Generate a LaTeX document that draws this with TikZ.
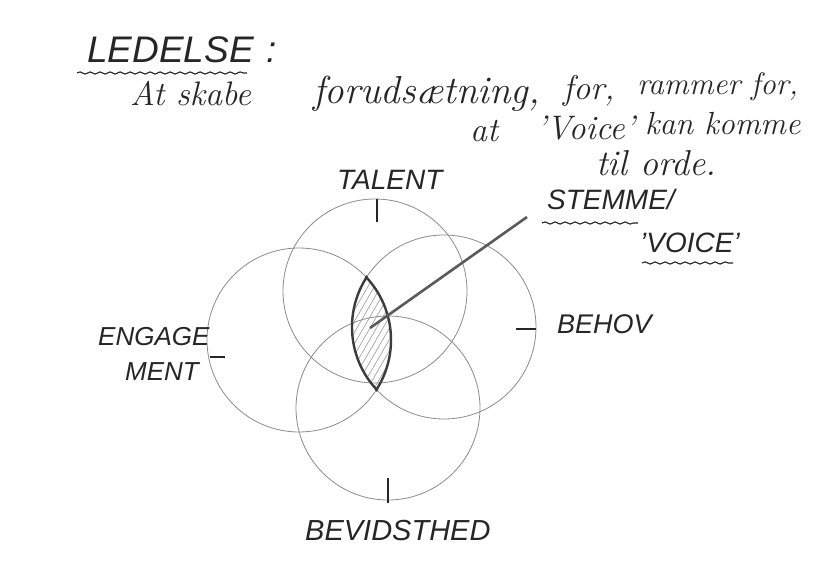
\documentclass[tikz,border=0pt]{standalone}
\usepackage{fontspec}
\setsansfont{Liberation Sans}
\usetikzlibrary{decorations.pathmorphing}
\definecolor{ink}{HTML}{262626}
\definecolor{circgray}{HTML}{8C8C8C}
\definecolor{lensgray}{HTML}{3C3C3C}
\definecolor{ptrgray}{HTML}{5A5A5A}
\definecolor{hatchgray}{HTML}{9A9A9A}
\begin{document}
\begin{tikzpicture}[x=1pt,y=-1pt,
  circ/.style={draw=circgray, line width=0.8pt, circle, minimum size=184pt, inner sep=0pt},
  caps/.style={font=\sffamily\itshape\fontsize{28}{30}\selectfont, text=ink, inner sep=0pt, anchor=base west},
  cur/.style={font=\itshape\fontsize{34}{40}\selectfont, text=ink, inner sep=0pt, anchor=base west},
  tickmark/.style={draw=ink, line width=2.2pt},
  lensline/.style={draw=lensgray, line width=2.4pt},
  hatch/.style={draw=hatchgray, line width=0.6pt},
  pointer/.style={draw=ptrgray, line width=2.6pt},
  wavy/.style={draw=ink, line width=1.1pt, decorate, decoration={snake, amplitude=1.1pt, segment length=10pt}},
]
\fill[white] (0,0) rectangle (823,583);
\useasboundingbox (0,0) rectangle (823,583);

% header text
\node[caps, font=\sffamily\itshape\fontsize{37}{40}\selectfont] (ledelse) at (87,63) {LEDELSE\,\,:};
\draw[wavy] (77,73) -- (247,73);

\node[cur] (l2a) at (130,106) {At skabe};
\node[cur, font=\itshape\fontsize{39}{44}\selectfont] (l2b) at (313,104) {forudsætning,};
\node[cur] (l2c) at (563,100) {for,};
\node[cur, font=\itshape\fontsize{31}{36}\selectfont] (l2d) at (637,95) {rammer for,};
\node[cur] (l3a) at (470,142) {at};
\node[cur] (l3b) at (536,140) {'Voice'};
\node[cur, font=\itshape\fontsize{32}{38}\selectfont] (l3c) at (645,135) {kan komme};
\node[cur, font=\itshape\fontsize{36}{42}\selectfont] (l4) at (596,176) {til orde.};

% circles
\node[circ] (ctal) at (375,291) {};
\node[circ] (ceng) at (299,340) {};
\node[circ] (cbeh) at (444,327) {};
\node[circ] (cbev) at (388,408) {};

% lens hatching
\begin{scope}
  \clip (ceng.center) circle (92pt);
  \clip (cbeh.center) circle (92pt);
  \foreach \i in {-12,...,12}
    \draw[hatch] (370+\i*6.5-40, 328+69.3) -- (370+\i*6.5+40, 328-69.3);
\end{scope}
% lens outline
\begin{scope}
  \clip (ceng.center) circle (93.5pt);
  \draw[lensline] (cbeh.center) circle (92pt);
\end{scope}
\begin{scope}
  \clip (cbeh.center) circle (93.5pt);
  \draw[lensline] (ceng.center) circle (92pt);
\end{scope}

% ticks
\draw[tickmark] ([xshift=2pt]ctal.north) -- ++(0,23);
\draw[tickmark] ([yshift=-2pt]cbeh.east) -- ++(-20,0);
\draw[tickmark] ([yshift=-3pt]cbev.south) -- ++(0,-25);
\draw[tickmark] (210,357) -- (225,357);

% labels
\node[caps] (talent) at (337,190) {TALENT};
\node[caps, font=\sffamily\itshape\fontsize{26}{30}\selectfont] (eng1) at (98,345) {ENGAGE};
\node[caps, font=\sffamily\itshape\fontsize{26}{30}\selectfont] (eng2) at (125,380) {MENT};
\node[caps, font=\sffamily\itshape\fontsize{27}{30}\selectfont] (behov) at (557,333) {BEHOV};
\node[caps, font=\sffamily\itshape\fontsize{29}{30}\selectfont] (bevid) at (305,540) {BEVIDSTHED};
\node[caps] (stemme) at (547,210) {STEMME/};
\node[caps] (voice) at (640,252) {'VOICE'};
\draw[wavy] (542,223) -- (638,223);
\draw[wavy] (642,263) -- (733,263);

% pointer
\coordinate (lens) at (370,328);
\coordinate (ptr) at (527,217);
\draw[pointer] (lens) -- (ptr);
\end{tikzpicture}
\end{document}
